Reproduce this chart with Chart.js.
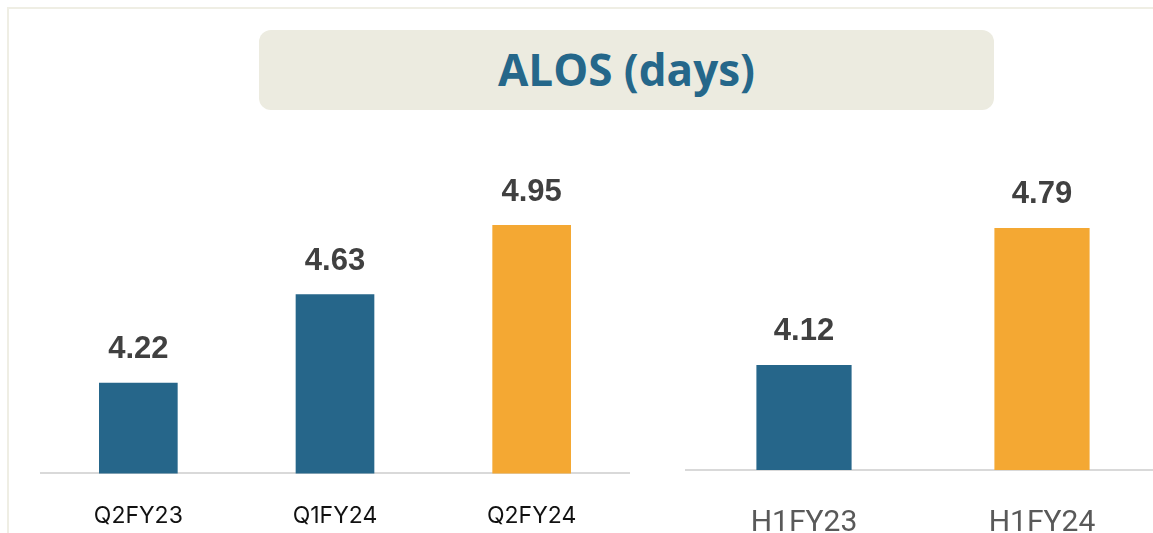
<!DOCTYPE html>
<html>
<head>
<meta charset="utf-8">
<script src="https://cdn.jsdelivr.net/npm/chart.js@4.4.0/dist/chart.umd.min.js"></script>
<style>
  html, body { margin: 0; padding: 0; background: #fff; overflow: hidden; }
  body { width: 1153px; height: 533px; position: relative; }
  .frame { position: absolute; left: 7px; top: 7px; width: 1160px; height: 540px;
           border-left: 2px solid #efeee4; border-top: 2px solid #efeee4; }
  .title { position: absolute; left: 259px; top: 30px; width: 735px; height: 80px;
           background: #ecebe0; border-radius: 12px; text-align: center;
           font-family: "Open Sans", sans-serif; font-weight: 700; font-size: 44px;
           line-height: 78px; color: #25678a; }
  .box { position: absolute; top: 130px; }
</style>
</head>
<body>
<div class="frame"></div>
<div class="title">ALOS (days)</div>
<div class="box" style="left:40px;width:590px;height:429px"><canvas id="quarterChart"></canvas></div>
<div class="box" style="left:685px;width:476px;height:446px"><canvas id="halfChart"></canvas></div>
<script>
// dados
const quarterLabels = ['Q2FY23', 'Q1FY24', 'Q2FY24'];
const quarterValues = [4.22, 4.63, 4.95];
const halfLabels = ['H1FY23', 'H1FY24'];
const halfValues = [4.12, 4.79];

const blue = '#26668a';
const orange = '#f4a833';

// rótulos de valor acima das barras
const valueLabels = {
    id: 'valueLabels',
    afterDatasetsDraw(chart) {
        const ctx = chart.ctx;
        const meta = chart.getDatasetMeta(0);
        ctx.save();
        ctx.font = 'bold 31px "Liberation Sans", Arial, sans-serif';
        ctx.fillStyle = '#404040';
        ctx.textAlign = 'center';
        ctx.textBaseline = 'middle';
        meta.data.forEach((bar, i) => {
            const v = chart.data.datasets[0].data[i];
            ctx.fillText(v.toFixed(2), bar.x, bar.y - 33);
        });
        ctx.restore();
    }
};

function makeChart(id, labels, values, colors, yMin, yMax, tickFont, tickColor, tickPad) {
    return new Chart(document.getElementById(id), {
        type: 'bar',
        data: {
            labels: labels,
            datasets: [{
                data: values,
                backgroundColor: colors,
                barPercentage: 0.4,
                categoryPercentage: 1.0
            }]
        },
        options: {
            responsive: true,
            maintainAspectRatio: false,
            animation: false,
            layout: { padding: 0 },
            plugins: { legend: { display: false }, tooltip: { enabled: false } },
            scales: {
                x: {
                    grid: { display: false, drawTicks: false },
                    border: { display: true, color: '#d9d9d9', width: 2 },
                    ticks: { font: tickFont, color: tickColor, padding: tickPad }
                },
                y: { display: false, min: yMin, max: yMax }
            }
        },
        plugins: [valueLabels]
    });
}

makeChart('quarterChart', quarterLabels, quarterValues, [blue, blue, orange], 3.8, 5.39,
    { family: 'Inter, sans-serif', size: 23 }, '#111', 29);
makeChart('halfChart', halfLabels, halfValues, [blue, orange], 3.606, 5.269,
    { family: 'Roboto, sans-serif', size: 30 }, '#595959', 35);
</script>
</body>
</html>
